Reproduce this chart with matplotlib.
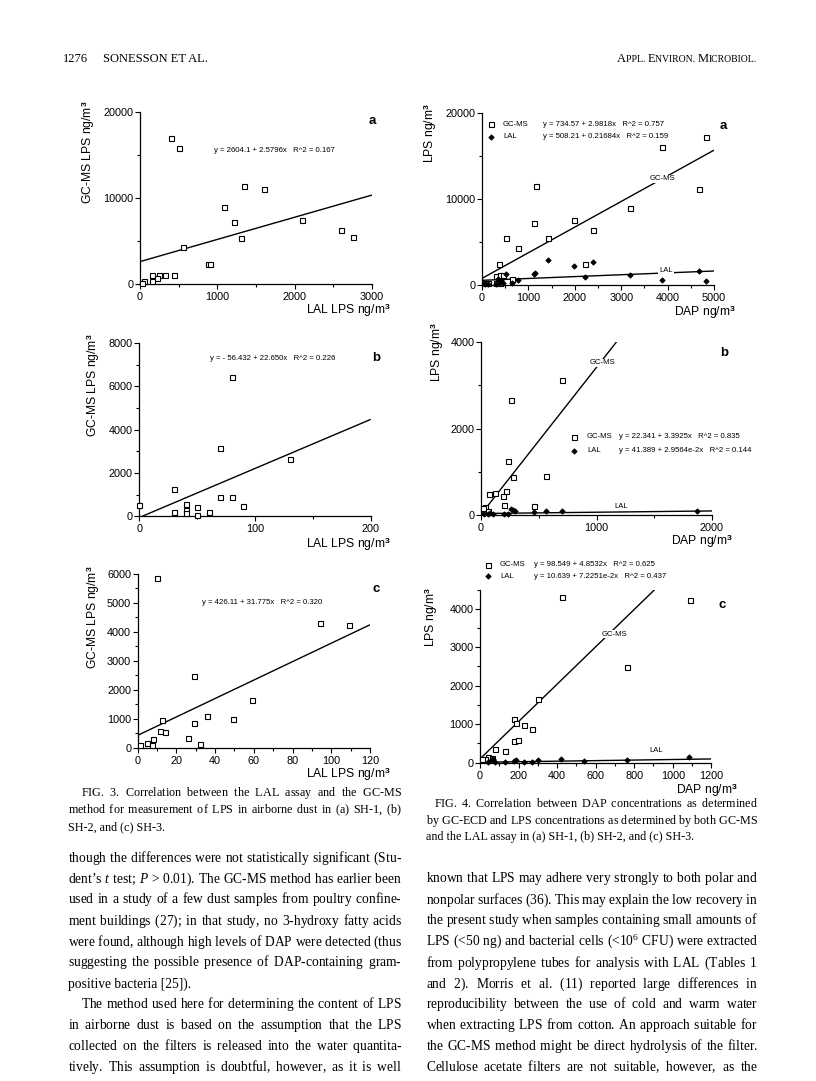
import matplotlib
matplotlib.use("Agg")
import matplotlib.pyplot as plt
from matplotlib.ticker import MultipleLocator, ScalarFormatter

plt.rcParams['font.family'] = ['Liberation Sans', 'DejaVu Sans']
plt.rcParams['mathtext.fontset'] = 'custom'
plt.rcParams['mathtext.rm'] = 'Liberation Sans'
plt.rcParams['mathtext.bf'] = 'Liberation Sans:bold'
plt.rcParams['mathtext.it'] = 'Liberation Serif:italic'
plt.rcParams['mathtext.sf'] = 'Liberation Serif'

# ---------------- data ----------------
# FIG. 3  (x = LAL LPS, y = GC-MS LPS)
fig3a_lal = [400, 500, 1340, 1600, 1080, 1210, 2100, 1300, 2600, 2750, 550, 880, 910,
             150, 240, 320, 440, 220, 150, 55, 20]
fig3a_gcms = [17000, 15800, 11350, 11000, 8900, 7200, 7500, 5300, 6300, 5450, 4300, 2300, 2300,
              1000, 1100, 1000, 1050, 700, 350, 300, 100]
fig3a_fit = (2604.1, 2.5796)
fig3a_eq = "y = 2604.1 + 2.5796x   R^2 = 0.167"

fig3b_lal = [80, 70, 130, 30, 70, 80, 90, 40, 50, 30, 40, 40, 60, 50, 0]
fig3b_gcms = [6450, 3150, 2640, 1250, 900, 900, 480, 550, 450, 200, 300, 170, 220, 80, 500]
fig3b_fit = (-56.432, 22.650)
fig3b_eq = "y = - 56.432 + 22.650x   R^2 = 0.226"

fig3c_lal = [10, 94, 109, 29, 59, 36, 49, 12.5, 29, 11.5, 14, 26, 8, 5, 7.5, 32, 1]
fig3c_gcms = [5850, 4310, 4220, 2480, 1630, 1110, 1000, 970, 850, 570, 540, 330, 300, 160, 80, 130, 80]
fig3c_fit = (426.11, 31.775)
fig3c_eq = "y = 426.11 + 31.775x   R^2 = 0.320"

# FIG. 4  (x = DAP, y = LPS by GC-MS and by LAL)
fig4a_dap_gc = [4830, 3890, 4680, 1160, 3200, 1110, 1980, 2400, 520, 1420, 780, 370, 2230,
                300, 390, 450, 650, 60, 120, 300, 380]
fig4a_gcms = [17170, 16000, 11120, 11470, 8950, 7200, 7520, 6350, 5390, 5470, 4300, 2400, 2360,
              1000, 1080, 1100, 660, 200, 150, 150, 250]
fig4a_dap_lal = [1420, 2400, 1980, 1140, 1110, 520, 3200, 2230, 4680, 3890, 4820, 780, 650,
                 60, 120, 300, 380, 450, 400, 350]
fig4a_lal = [2830, 2640, 2170, 1360, 1280, 1240, 1085, 850, 1630, 500, 430, 540, 190,
             100, 80, 100, 150, 200, 600, 700]
fig4a_fit_gc = (734.57, 2.9818)
fig4a_fit_lal = (508.21, 0.21684)
fig4a_eq_gc = "y = 734.57 + 2.9818x   R^2 = 0.757"
fig4a_eq_lal = "y = 508.21 + 0.21684x   R^2 = 0.159"

fig4b_dap_gc = [700, 257, 234, 280, 566, 214, 188, 69, 124, 200, 456, 35, 20, 60]
fig4b_gcms = [3130, 2650, 1250, 885, 915, 570, 446, 485, 508, 246, 215, 185, 160, 100]
fig4b_dap_lal = [1870, 257, 274, 291, 456, 566, 698, 30, 60, 100, 200, 230, 80]
fig4b_lal = [100, 154, 123, 92, 69, 100, 100, 40, 30, 20, 30, 20, 60]
fig4b_fit_gc = (22.341, 3.3925)
fig4b_fit_lal = (41.389, 2.9564e-2)
fig4b_eq_gc = "y = 22.341 + 3.3925x   R^2 = 0.835"
fig4b_eq_lal = "y = 41.389 + 2.9564e-2x   R^2 = 0.144"

fig4c_dap_gc = [300, 178, 187, 228, 268, 176, 195, 76, 130, 424, 1090, 763, 43, 60, 28, 12]
fig4c_gcms = [1645, 1126, 1022, 970, 866, 571, 590, 346, 303, 4310, 4240, 2490, 139, 130, 104, 87]
fig4c_dap_lal = [1085, 420, 299, 185, 178, 761, 538, 268, 228, 130, 76, 40, 60, 70]
fig4c_lal = [139, 104, 69, 69, 52, 60, 35, 30, 25, 20, 30, 20, 100, 90]
fig4c_fit_gc = (98.549, 4.8532)
fig4c_fit_lal = (10.639, 7.2251e-2)
fig4c_eq_gc = "y = 98.549 + 4.8532x   R^2 = 0.625"
fig4c_eq_lal = "y = 10.639 + 7.2251e-2x   R^2 = 0.437"

# ---------------- text ----------------
header_left_num = "1276"
header_left = "SONESSON ET AL."
header_right = [("A", 1), ("PPL. ", 0), ("E", 1), ("NVIRON. ", 0), ("M", 1), ("ICROBIOL.", 0)]

cap3 = ["FIG. 3. Correlation between the LAL assay and the GC-MS",
        "method for measurement of LPS in airborne dust in (a) SH-1, (b)",
        "SH-2, and (c) SH-3."]
cap4 = ["FIG. 4. Correlation between DAP concentrations as determined",
        "by GC-ECD and LPS concentrations as determined by both GC-MS",
        "and the LAL assay in (a) SH-1, (b) SH-2, and (c) SH-3."]

# words starting with "_" are italic; "^6" marks a superscript
body_left = [
    "though the differences were not statistically significant (Stu-",
    "dent\u2019s _t test; _P > 0.01). The GC-MS method has earlier been",
    "used in a study of a few dust samples from poultry confine-",
    "ment buildings (27); in that study, no 3-hydroxy fatty acids",
    "were found, although high levels of DAP were detected (thus",
    "suggesting the possible presence of DAP-containing gram-",
    "positive bacteria [25]).",
    "The method used here for determining the content of LPS",
    "in airborne dust is based on the assumption that the LPS",
    "collected on the filters is released into the water quantita-",
    "tively. This assumption is doubtful, however, as it is well",
]
body_right = [
    "known that LPS may adhere very strongly to both polar and",
    "nonpolar surfaces (36). This may explain the low recovery in",
    "the present study when samples containing small amounts of",
    "LPS (<50 ng) and bacterial cells (<10^6 CFU) were extracted",
    "from polypropylene tubes for analysis with LAL (Tables 1",
    "and 2). Morris et al. (11) reported large differences in",
    "reproducibility between the use of cold and warm water",
    "when extracting LPS from cotton. An approach suitable for",
    "the GC-MS method might be direct hydrolysis of the filter.",
    "Cellulose acetate filters are not suitable, however, as the",
]

# ---------------- figure ----------------
W, H = 816, 1081
fig = plt.figure(figsize=(W / 100, H / 100), dpi=100)
fig.patch.set_facecolor('white')

SERIF = ['Liberation Serif', 'DejaVu Serif']
SANS = ['Liberation Sans', 'DejaVu Sans']
EQ = 5.6


def make_ax(box, xlim, ylim, xmaj, xmin, ymaj, ymin):
    l, r, yb, yt = box
    ax = fig.add_axes([l / W, 1 - yb / H, (r - l) / W, (yb - yt) / H])
    ax.set_xlim(*xlim)
    ax.set_ylim(*ylim)
    ax.patch.set_alpha(0)
    for s in ['top', 'right']:
        ax.spines[s].set_visible(False)
    for s in ['left', 'bottom']:
        ax.spines[s].set_linewidth(0.9)
    ax.xaxis.set_major_locator(MultipleLocator(xmaj))
    ax.xaxis.set_minor_locator(MultipleLocator(xmin))
    ax.yaxis.set_major_locator(MultipleLocator(ymaj))
    ax.yaxis.set_minor_locator(MultipleLocator(ymin))
    for a in (ax.xaxis, ax.yaxis):
        fmt = ScalarFormatter(useOffset=False)
        fmt.set_scientific(False)
        a.set_major_formatter(fmt)
    ax.tick_params(axis='both', which='major', length=3.5, width=0.8, labelsize=7.8, direction='out')
    ax.tick_params(axis='both', which='minor', length=2.5, width=0.8, direction='out')
    ax.tick_params(axis='x', pad=2.2)
    ax.tick_params(axis='y', pad=1.2)
    return ax


def sq(ax, x, y):
    ax.plot(x, y, ls='none', marker='s', ms=3.6, mfc='white', mec='black', mew=0.8,
            clip_on=False, zorder=4)


def dm(ax, x, y):
    ax.plot(x, y, ls='none', marker='D', ms=2.8, mfc='black', mec='black', mew=0.5,
            clip_on=False, zorder=4)


def fitline(ax, fit, xmax):
    a, b = fit
    ax.plot([0, xmax], [a, a + b * xmax], color='black', lw=1.0, zorder=3,
            solid_capstyle='butt')


# overlay in pixel coordinates
ov = fig.add_axes([0, 0, 1, 1], zorder=10)
ov.set_xlim(0, W)
ov.set_ylim(H, 0)
ov.axis('off')
ov.patch.set_alpha(0)


def T(x, y, s, size, family=SANS, ha='left', va='center', **kw):
    return ov.text(x, y, s, fontsize=size, family=family, ha=ha, va=va, **kw)


# ---- FIG 3a ----
ax = make_ax((140, 372, 284, 112), (0, 3000), (0, 20000), 1000, 500, 10000, 5000)
fitline(ax, fig3a_fit, 3000)
sq(ax, fig3a_lal, fig3a_gcms)
T(214, 151, fig3a_eq, EQ)
T(372, 121, "a", 9.5, weight='bold', ha='center')
T(88, 152, "GC-MS LPS ng/m$^{\\mathbf{3}}$", 8.7, rotation=90, ha='center')
T(391, 310, "LAL LPS ng/m$^{\\mathbf{3}}$", 8.7, ha='right')

# ---- FIG 3b ----
ax = make_ax((139.3, 370.7, 516.3, 343), (0, 200), (0, 8000), 100, 50, 2000, 1000)
fitline(ax, fig3b_fit, 200)
sq(ax, fig3b_lal, fig3b_gcms)
T(210, 358, fig3b_eq, EQ)
T(376, 358, "b", 9.5, weight='bold', ha='center')
T(93, 385, "GC-MS LPS ng/m$^{\\mathbf{3}}$", 8.7, rotation=90, ha='center')
T(391, 544, "LAL LPS ng/m$^{\\mathbf{3}}$", 8.7, ha='right')

# ---- FIG 3c ----
ax = make_ax((137.7, 370, 747.7, 573.7), (0, 120), (0, 6000), 20, 10, 1000, 500)
fitline(ax, fig3c_fit, 120)
sq(ax, fig3c_lal, fig3c_gcms)
T(202, 603, fig3c_eq, EQ)
T(376, 589, "c", 9.5, weight='bold', ha='center')
T(93, 617, "GC-MS LPS ng/m$^{\\mathbf{3}}$", 8.7, rotation=90, ha='center')
T(391, 774, "LAL LPS ng/m$^{\\mathbf{3}}$", 8.7, ha='right')

# ---- FIG 4 panels ----
def legend_rows(xm, xn, xe, y1, y2, eq_gc, eq_lal):
    ov.plot([xm], [y1], ls='none', marker='s', ms=3.6, mfc='white', mec='black', mew=0.8)
    ov.plot([xm], [y2], ls='none', marker='D', ms=2.8, mfc='black', mec='black', mew=0.5)
    T(xn, y1, "GC-MS", EQ)
    T(xn, y2, "LAL", EQ)
    T(xe, y1, eq_gc, EQ)
    T(xe, y2, eq_lal, EQ)


def line_label(x, y, s):
    T(x, y, s, EQ, ha='center', bbox=dict(fc='white', ec='none', pad=0.6))


ax = make_ax((482, 714, 284.7, 112.7), (0, 5000), (0, 20000), 1000, 500, 10000, 5000)
fitline(ax, fig4a_fit_gc, 5000)
fitline(ax, fig4a_fit_lal, 5000)
sq(ax, fig4a_dap_gc, fig4a_gcms)
dm(ax, fig4a_dap_lal, fig4a_lal)
legend_rows(491, 503, 543, 124, 137, fig4a_eq_gc, fig4a_eq_lal)
line_label(662, 179, "GC-MS")
line_label(666, 271, "LAL")
T(723, 126, "a", 9.5, weight='bold', ha='center')
T(430, 133, "LPS ng/m$^{\\mathbf{3}}$", 8.7, rotation=90, ha='center')
T(736, 312, "DAP ng/m$^{\\mathbf{3}}$", 8.7, ha='right')

ax = make_ax((481, 712, 515.3, 342), (0, 2000), (0, 4000), 1000, 500, 2000, 1000)
fitline(ax, fig4b_fit_gc, 2000)
fitline(ax, fig4b_fit_lal, 2000)
sq(ax, fig4b_dap_gc, fig4b_gcms)
dm(ax, fig4b_dap_lal, fig4b_lal)
legend_rows(574, 587, 619, 437, 451, fig4b_eq_gc, fig4b_eq_lal)
line_label(602, 363, "GC-MS")
T(621, 506, "LAL", EQ, ha='center')
T(724, 353, "b", 9.5, weight='bold', ha='center')
T(437, 352, "LPS ng/m$^{\\mathbf{3}}$", 8.7, rotation=90, ha='center')
T(733, 541, "DAP ng/m$^{\\mathbf{3}}$", 8.7, ha='right')

ax = make_ax((480, 711.3, 762.7, 589.5), (0, 1200), (0, 4500), 200, 100, 1000, 500)
fitline(ax, fig4c_fit_gc, 1200)
fitline(ax, fig4c_fit_lal, 1200)
sq(ax, fig4c_dap_gc, fig4c_gcms)
dm(ax, fig4c_dap_lal, fig4c_lal)
legend_rows(488, 500, 534, 565, 576, fig4c_eq_gc, fig4c_eq_lal)
line_label(614, 634, "GC-MS")
T(656, 751, "LAL", EQ, ha='center')
T(722, 605, "c", 9.5, weight='bold', ha='center')
T(431, 617, "LPS ng/m$^{\\mathbf{3}}$", 8.7, rotation=90, ha='center')
T(738, 790, "DAP ng/m$^{\\mathbf{3}}$", 8.7, ha='right')

# ---------------- typeset text ----------------
renderer = fig.canvas.get_renderer()


def tw(s, size, style='normal'):
    t = ov.text(0, 0, s, fontsize=size, family=SERIF, style=style)
    w = t.get_window_extent(renderer).width
    t.remove()
    return w


def token(w):
    if w.startswith('_'):
        return '$\\mathit{%s}$' % w[1:]
    if '^' in w:
        a, b = w.split('^', 1)
        return a + '$^{\\mathsf{%s}}$' % b
    return w


def build(words, g):
    return ('$\\hspace{%.4f}$' % g).join(token(w) for w in words)


SP_CACHE = {}


def space_w(size):
    if size not in SP_CACHE:
        SP_CACHE[size] = tw('a a', size) - tw('aa', size)
    return SP_CACHE[size]


def natural(line, size):
    words = line.split(' ')
    return tw(build(words, 0.0), size) + space_w(size) * (len(words) - 1)


def draw_line(line, x0, x1, y, size, justify):
    """One text object per line (common baseline); justified via mathtext \\hspace."""
    words = line.split(' ')
    base = y + 0.33 * size * 100 / 72
    if justify and len(words) > 1:
        w0 = tw(build(words, 0.0), size)
        w1 = tw(build(words, 1.0), size)
        per = (w1 - w0) / (len(words) - 1)
        g = (x1 - x0 - w0) / (len(words) - 1) / per
        s = build(words, g)
    else:
        s = ' '.join(token(w) for w in words)
    ov.text(x0, base, s, fontsize=size, family=SERIF, ha='left', va='baseline')


def fit_size(lines_spans, base=10.0):
    r = min((x1 - x0) / natural(l, base) for l, x0, x1 in lines_spans)
    return base * r


# header
HB = 61.5
ov.text(63, HB, header_left_num, fontsize=9.0, family=SERIF, va='baseline')
ov.text(103, HB, header_left, fontsize=9.0, family=SERIF, va='baseline')
pieces = [(s, 9.0 if big else 7.0) for s, big in header_right]
total = sum(tw(s, sz) for s, sz in pieces)
x = 757 - total
for s, sz in pieces:
    ov.text(x, HB, s, fontsize=sz, family=SERIF, ha='left', va='baseline')
    x += tw(s, sz)

# captions
LX0, LX1 = 68, 402
RX0, RX1 = 426, 758
cap_size = fit_size([(cap3[0], 81, LX1), (cap3[1], LX0, LX1),
                     (cap4[0], 434, RX1), (cap4[1], RX0, RX1)])
cap_size = min(cap_size, 10.5)
cy3 = [792, 809, 826]
draw_line(cap3[0], 81, LX1, cy3[0], cap_size, True)
draw_line(cap3[1], LX0, LX1, cy3[1], cap_size, True)
draw_line(cap3[2], LX0, LX1, cy3[2], cap_size, False)
cy4 = [803, 820, 836]
draw_line(cap4[0], 434, RX1, cy4[0], cap_size, True)
draw_line(cap4[1], RX0, RX1, cy4[1], cap_size, True)
draw_line(cap4[2], RX0, RX1, cy4[2], cap_size, False)

# body
body_y = [857 + 21.0 * i for i in range(11)]
spans = []
for i, l in enumerate(body_left):
    if i == 6:
        continue
    x0 = 81 if i == 7 else LX0
    spans.append((l, x0, LX1))
for l in body_right:
    spans.append((l, RX0, RX1))
body_size = min(fit_size(spans), 12.0)
for i, l in enumerate(body_left):
    x0 = 81 if i == 7 else LX0
    draw_line(l, x0, LX1, body_y[i], body_size, i != 6)
for i, l in enumerate(body_right):
    draw_line(l, RX0, RX1, body_y[i + 1], body_size, True)

fig.savefig("out.png", dpi=100, facecolor='white')
